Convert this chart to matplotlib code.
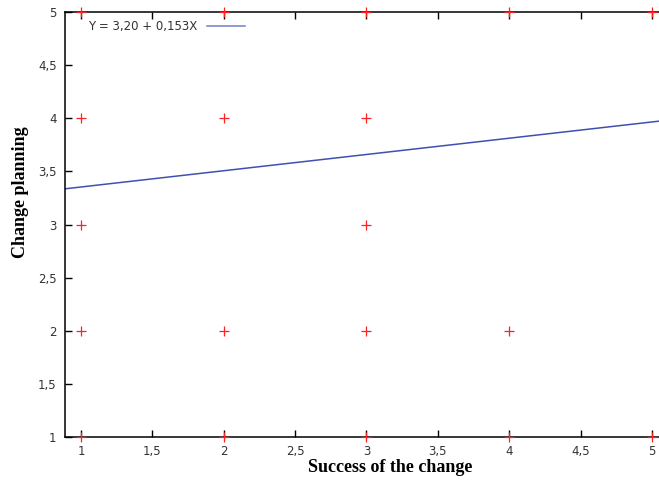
import numpy as np
import matplotlib.pyplot as plt
from matplotlib.ticker import FuncFormatter

# observed pairs (success of the change, change planning)
success = [1, 1, 1, 1, 1, 2, 2, 2, 2, 3, 3, 3, 3, 3, 4, 4, 4, 5, 5]
planning = [1, 2, 3, 4, 5, 1, 2, 4, 5, 1, 2, 3, 4, 5, 1, 2, 5, 1, 5]

# regression line Y = a + bX
a = 3.20
b = 0.153
legend_text = "Y = 3,20 + 0,153X"

x_min, x_max = 0.888, 5.05
x_ticks = [1, 1.5, 2, 2.5, 3, 3.5, 4, 4.5, 5]
y_ticks = [1, 1.5, 2, 2.5, 3, 3.5, 4, 4.5, 5]

fig = plt.figure(figsize=(6.59, 4.80), dpi=100)
ax = fig.add_axes([65 / 659, 1 - 437 / 480, 1 - 65 / 659, 425 / 480])

ax.plot(success, planning, "+", color="#ff2020", ms=7, mew=0.9, clip_on=False, zorder=3)

x_line = np.array([x_min, x_max])
ax.plot(x_line, a + b * x_line, "-", color="#4050b0", lw=1.1, label=legend_text)

ax.set_xlim(x_min, x_max)
ax.set_ylim(1, 5)
ax.set_xticks(x_ticks)
ax.set_yticks(y_ticks)

comma = FuncFormatter(lambda v, p: f"{v:g}".replace(".", ","))
ax.xaxis.set_major_formatter(comma)
ax.yaxis.set_major_formatter(comma)

ax.tick_params(direction="in", length=5, width=1, labelsize=8.5, labelcolor="#333333",
               top=True, pad=6)
ax.tick_params(axis="y", pad=6)
ax.spines["right"].set_visible(False)
for s in ["left", "bottom", "top"]:
    ax.spines[s].set_linewidth(1.1)

ax.set_xlabel("Success of the change", family="Liberation Serif", fontweight="bold",
              fontsize=13, va="center")
ax.set_ylabel("Change planning", family="Liberation Serif", fontweight="bold",
              fontsize=13, va="center")
ax.xaxis.set_label_coords(0.547, -0.072)
ax.yaxis.set_label_coords(-0.075, 0.576)

leg = ax.legend(loc="upper left", frameon=False, fontsize=8.5, markerfirst=False,
                handlelength=3.2, borderaxespad=0.3, bbox_to_anchor=(0.025, 1.0))
for t in leg.get_texts():
    t.set_color("#333333")
leg.get_lines()[0].set_color("#7080c0")

fig.savefig("out.png", dpi=100)
